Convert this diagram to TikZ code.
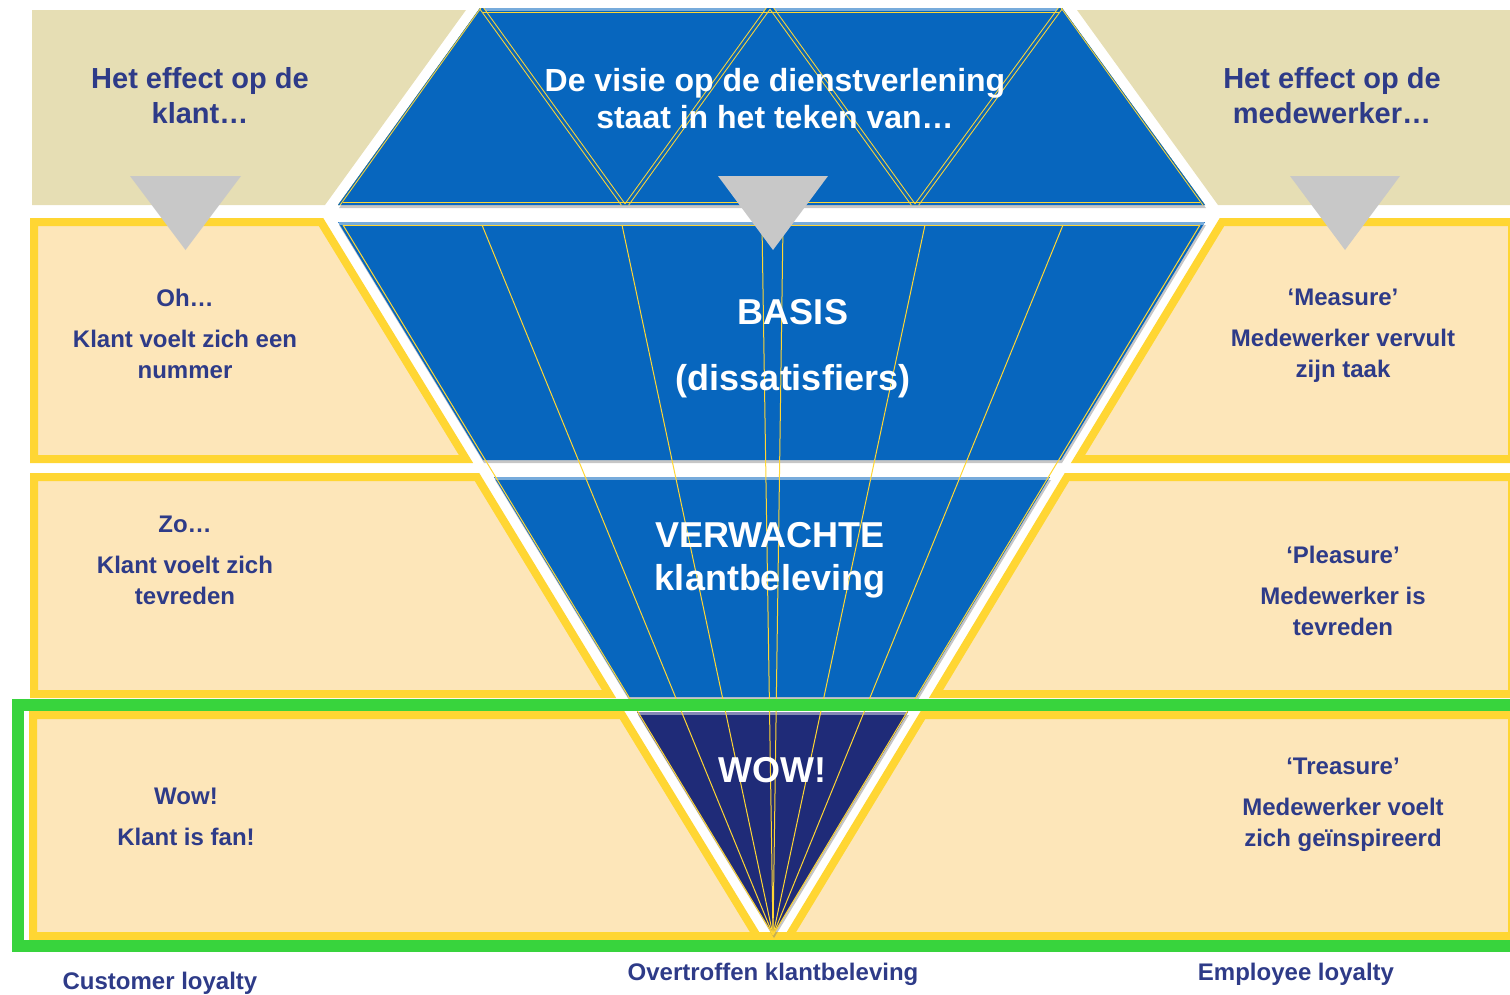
\documentclass[tikz,border=0pt]{standalone}
\usepackage{fontspec}
\setmainfont{Liberation Sans}
\usetikzlibrary{shadows}
\usetikzlibrary{positioning}

\definecolor{beige}{HTML}{E6DEB4}
\definecolor{peach}{HTML}{FDE6B9}
\definecolor{gold}{HTML}{FFD633}
\definecolor{lime}{HTML}{38D43D}
\definecolor{royal}{HTML}{0766BE}
\definecolor{navy}{HTML}{1F2B78}
\definecolor{ink}{HTML}{2E3B88}
\definecolor{pointergray}{HTML}{C8C8C8}

\tikzset{
  panel/.style={fill=peach, draw=gold, line width=8pt, line join=miter},
  band/.style={fill=#1, drop shadow={shadow xshift=1pt, shadow yshift=-3pt, opacity=.45}},
  gloss/.style={line width=3pt, #1},
  ray/.style={gold, line width=1pt},
  twin/.style={draw=gold, line width=1pt, double=royal, double distance=2.6pt, line join=miter},
  pointer/.style={fill=pointergray},
  headtext/.style={text=ink, font=\bfseries\fontsize{29}{35}\selectfont, align=center, inner sep=0pt, anchor=north},
  sidetext/.style={text=ink, font=\bfseries\fontsize{24}{31}\selectfont, align=center, inner sep=0pt, anchor=north},
  bandtext/.style={text=white, font=\bfseries\fontsize{36}{43}\selectfont, align=center, inner sep=0pt, anchor=north},
}

\begin{document}
\begin{tikzpicture}[x=1pt,y=-1pt]
\useasboundingbox (0,0) rectangle (1510,994);
\clip (0,0) rectangle (1510,994);

% header strip
\fill[beige] (32,10) -- (466,10) -- (325,205) -- (32,205) -- cycle;
\fill[beige] (1077,10) -- (1520,10) -- (1520,205) -- (1218,205) -- cycle;

% customer side
\draw[panel] (34,222) -- (321,222) -- (466,459) -- (34,459) -- cycle;
\draw[panel] (34,477) -- (477,477) -- (609,694) -- (34,694) -- cycle;
\draw[panel] (33,715) -- (622,715) -- (757,936) -- (33,936) -- cycle;
% employee side
\draw[panel] (1512,222) -- (1222,222) -- (1078,459) -- (1512,459) -- cycle;
\draw[panel] (1512,477) -- (1067,477) -- (936,694) -- (1512,694) -- cycle;
\draw[panel] (1512,715) -- (923,715) -- (789,936) -- (1512,936) -- cycle;
\draw[gold, line width=8pt] (750,936) -- (796,936);

% funnel
\coordinate (apex) at (773,935);
\fill[band=royal] (480,8) -- (1062,8) -- (1205,205) -- (338,205) -- cycle;
\fill[band=royal] (338,222) -- (1205,222) -- (1061,460) -- (483,460) -- cycle;
\fill[band=royal] (494,477) -- (1050,477) -- (917,697) -- (628,697) -- cycle;
\fill[band=navy] (637,712) -- (908,712) -- (apex) -- cycle;
\draw[gloss=royal!55!white] (482,9.5) -- (1060,9.5);
\draw[gloss=royal!55!white] (339,223.5) -- (1204,223.5);
\draw[gloss=royal!55!white] (495,478.5) -- (1049,478.5);
\draw[gloss=navy!55!white] (638,713.5) -- (907,713.5);

% triangles in the top band
\begin{scope}
  \clip (480,8) -- (1062,8) -- (1205,205) -- (338,205) -- cycle;
  \draw[twin] (480,6) -- (625,207) -- (770,6) -- (915,207) -- (1062,6);
  \draw[twin] (480,6) -- (335,209);
  \draw[twin] (1062,6) -- (1208,209);
\end{scope}
\draw[ray] (483,12) -- (1059,12);
\draw[ray] (343,202) -- (1200,202);

% rays towards the tip
\draw[ray] (343,225) -- (1200,225);
\foreach \x in {343,482,622,762,783,925,1063,1200}
  \draw[ray] (\x,225) -- (apex);

% loyalty frame
\draw[lime, line width=12pt] (18,705) rectangle (1530,946);

% pointers
\fill[pointer] (130,176) -- (241,176) -- (185.5,250) -- cycle;
\fill[pointer] (718,176) -- (828,176) -- (773,250) -- cycle;
\fill[pointer] (1290,176) -- (1400,176) -- (1345,250) -- cycle;

% headings
\node[headtext] (klant) at (200,67) {Het effect op de\\klant…};
\node[headtext] (medewerker) at (1332,67) {Het effect op de\\medewerker…};
\node[bandtext, font=\bfseries\fontsize{32}{37}\selectfont] (visie) at (775,68)
  {De visie op de dienstverlening\\staat in het teken van…};

% funnel texts
\node[bandtext] (basis) at (793,299) {BASIS\\[23pt](dissatisfiers)};
\node[bandtext] (verwacht) at (770,522) {VERWACHTE\\klantbeleving};
\node[bandtext] (wow) at (772,757) {WOW!};

% customer texts
\node[sidetext] (oh) at (185,289) {Oh…\\[10pt]Klant voelt zich een\\nummer};
\node[sidetext] (zo) at (185,516) {Zo…\\[10pt]Klant voelt zich\\tevreden};
\node[sidetext] (fan) at (186,788) {Wow!\\[10pt]Klant is fan!};

% employee texts
\node[sidetext] (measure) at (1343,289) {‘Measure’\\[10pt]Medewerker vervult\\zijn taak};
\node[sidetext] (pleasure) at (1343,546) {‘Pleasure’\\[10pt]Medewerker is\\tevreden};
\node[sidetext] (treasure) at (1343,758) {‘Treasure’\\[10pt]Medewerker voelt\\zich geïnspireerd};

% loyalty labels
\node[sidetext] (customer) at (160,972) {Customer loyalty};
\node[sidetext] (overtroffen) at (773,963) {Overtroffen klantbeleving};
\node[sidetext] (employee) at (1296,963) {Employee loyalty};
\end{tikzpicture}
\end{document}
